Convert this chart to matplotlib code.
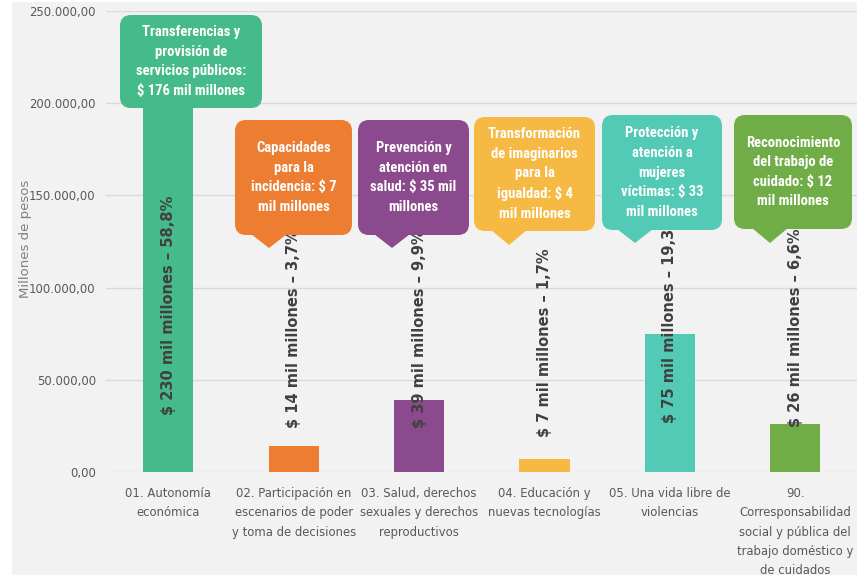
import matplotlib
matplotlib.use("Agg")
import matplotlib.pyplot as plt
from matplotlib.patches import FancyBboxPatch, Polygon, Rectangle
from matplotlib.ticker import FuncFormatter

# Data (millones de pesos)
CATEGORIES = [
    "01. Autonomía\neconómica",
    "02. Participación en\nescenarios de poder\ny toma de decisiones",
    "03. Salud, derechos\nsexuales y derechos\nreproductivos",
    "04. Educación y\nnuevas tecnologías",
    "05. Una vida libre de\nviolencias",
    "90.\nCorresponsabilidad\nsocial y pública del\ntrabajo doméstico y\nde cuidados",
]
VALUES = [230000, 14000, 39000, 7000, 75000, 26000]
AMOUNTS = ["230", "14", "39", "7", "75", "26"]
PERCENTS = ["58,8%", "3,7%", "9,9%", "1,7%", "19,3%", "6,6%"]
CALLOUT_TEXTS = [
    "Transferencias y\nprovisión de\nservicios públicos:\n$ 176 mil millones",
    "Capacidades\npara la\nincidencia: $ 7\nmil millones",
    "Prevención y\natención en\nsalud: $ 35 mil\nmillones",
    "Transformación\nde imaginarios\npara la\nigualdad: $ 4\nmil millones",
    "Protección y\natención a\nmujeres\nvíctimas: $ 33\nmil millones",
    "Reconocimiento\ndel trabajo de\ncuidado: $ 12\nmil millones",
]
Y_TICKS = [0, 50000, 100000, 150000, 200000, 250000]

# Styles / layout
COLORS = ["#45ba8a", "#ed7d31", "#8a4a8d", "#f6b944", "#52cab6", "#70ad47"]
LABEL_BASE = [31000, 24000, 24000, 19000, 26500, 24500]
# callout boxes in pixels: left, top, right, bottom, pointer tip x, pointer tip y
CALLOUT_BOXES = [
    (120, 15, 262, 108, 161, 121),
    (235, 120, 352, 235, 269, 248),
    (358, 120, 469, 235, 392, 248),
    (474, 117, 595, 231, 509, 245),
    (602, 115, 722, 230, 635, 243),
    (734, 115, 852, 229, 770, 243),
]
W, H = 857, 575
BG = "#f2f2f2"
TEXT_GRAY = "#595959"
CALLOUT_FONT = ["Liberation Sans Narrow", "Roboto Condensed", "DejaVu Sans Condensed", "Lato"]


def es_number(v, _pos=None):
    s = f"{v:,.2f}"
    return s.replace(",", "X").replace(".", ",").replace("X", ".")


fig = plt.figure(figsize=(W / 100, H / 100), dpi=100, facecolor="white")
fig.patches.append(Rectangle((12 / W, 0), 1 - 12 / W, 1 - 2 / H, transform=fig.transFigure,
                             facecolor=BG, edgecolor="none", zorder=0))

ax = fig.add_axes([105.5 / W, 103 / H, (858 - 105.5) / W, 461 / H])
ax.set_facecolor("none")
ax.set_zorder(1)

x = list(range(len(VALUES)))
ax.bar(x, VALUES, width=0.4, color=COLORS, zorder=2)

for i in x:
    ax.text(i, LABEL_BASE[i], f"$ {AMOUNTS[i]} mil millones – {PERCENTS[i]}", rotation=90,
            ha="center", va="bottom", fontsize=10.5, fontweight="bold", color="#404040",
            family="DejaVu Sans", zorder=3)

ax.set_xlim(-0.5, 5.5)
ax.set_ylim(0, 250000)
ax.set_yticks(Y_TICKS)
ax.yaxis.set_major_formatter(FuncFormatter(es_number))
ax.set_xticks(x)
ax.set_xticklabels(CATEGORIES, linespacing=1.62)
ax.tick_params(axis="both", length=0, labelsize=8.4, labelcolor=TEXT_GRAY)
ax.tick_params(axis="x", pad=11)
ax.tick_params(axis="y", pad=7)
ax.grid(axis="y", color="#d9d9d9", linewidth=1)
ax.set_axisbelow(True)
for side in ["top", "right", "left", "bottom"]:
    ax.spines[side].set_visible(False)

fig.text(26 / W, 1 - 239 / H, "Millones de pesos", rotation=90, ha="center", va="center",
         fontsize=9.5, color="#7f7f7f")

# callouts overlay in pixel units
ov = fig.add_axes([0, 0, 1, 1])
ov.set_zorder(2)
ov.set_xlim(0, W)
ov.set_ylim(H, 0)
ov.axis("off")
ov.patch.set_visible(False)

for (l, t, r, b, tx, ty), txt, col in zip(CALLOUT_BOXES, CALLOUT_TEXTS, COLORS):
    ov.add_patch(FancyBboxPatch((l, t), r - l, b - t, boxstyle="round,pad=0,rounding_size=11",
                                facecolor=col, edgecolor="none"))
    ov.add_patch(Polygon([(tx - 18, b - 1), (tx + 18, b - 1), (tx, ty)], closed=True,
                         facecolor=col, edgecolor="none"))
    ov.text((l + r) / 2, (t + b) / 2, txt, ha="center", va="center", color="white",
            fontsize=10.5, fontweight="bold", family=CALLOUT_FONT, linespacing=1.5)

fig.savefig("out.png", dpi=100, facecolor=fig.get_facecolor())
